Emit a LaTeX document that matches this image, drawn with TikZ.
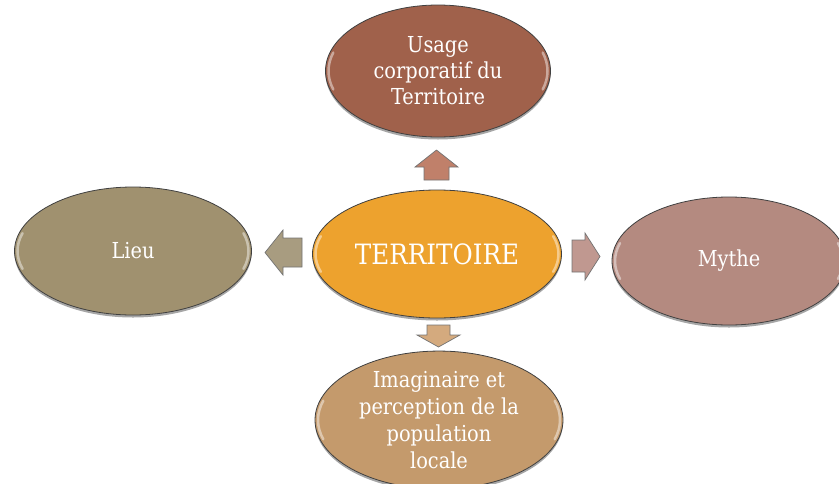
\documentclass[tikz,border=0pt]{standalone}
\usepackage{fontspec}
\setmainfont{DejaVu Serif}[FakeStretch=0.88]
\usetikzlibrary{calc,shadows,shapes.geometric}
\definecolor{cTop}{HTML}{A0614B}
\definecolor{cMid}{HTML}{EDA22E}
\definecolor{cLeft}{HTML}{A0916F}
\definecolor{cRight}{HTML}{B48A80}
\definecolor{cBot}{HTML}{C49A6C}
\definecolor{aTop}{HTML}{C0806A}
\definecolor{aLeft}{HTML}{A89C80}
\definecolor{aRight}{HTML}{C09890}
\definecolor{aBot}{HTML}{D4AA7E}
\tikzset{
  ell/.style={ellipse, draw=black!75, line width=0.8pt, inner sep=0pt, outer sep=0pt,
    text=white, align=center, font=\fontsize{22}{26}\selectfont,
    drop shadow={shadow xshift=0pt, shadow yshift=-2.5pt, opacity=0.35, fill=black},
    path picture={
      \draw[white, opacity=0.45, line width=2.5pt, line cap=round]
        let \p1=(path picture bounding box.center), \p2=(path picture bounding box.north east),
            \n1={\x2-\x1-3pt}, \n2={\y2-\y1-3pt} in
        (\x1,\y1) ++(163:{\n1} and {\n2}) arc[start angle=163, end angle=197, x radius=\n1, y radius=\n2]
        (\x1,\y1) ++(-17:{\n1} and {\n2}) arc[start angle=-17, end angle=17, x radius=\n1, y radius=\n2];
    }},
  barrow/.style={draw=black!55, line width=0.7pt, line join=miter}
}
\begin{document}
\begin{tikzpicture}[x=1pt,y=-1pt]
\useasboundingbox (0,0) rectangle (839,483);
\clip (0,0) rectangle (839,483);
% ellipses
\node[ell, fill=cTop, minimum width=225pt, minimum height=132pt] (top) at (438,71)
  {Usage\\corporatif du\\Territoire};
\node[ell, fill=cMid, minimum width=249pt, minimum height=128pt, font=\fontsize{28}{32}\selectfont] (mid) at (437,254)
  {TERRITOIRE};
\node[ell, fill=cLeft, minimum width=237pt, minimum height=128pt] (left) at (133,251) {Lieu};
\node[ell, fill=cRight, minimum width=234pt, minimum height=128pt] (right) at (729,261) {Mythe};
\node[ell, fill=cBot, minimum width=248pt, minimum height=130pt, font=\fontsize{22}{27}\selectfont] (bot) at (439,420)
  {Imaginaire et\\perception de la\\population\\locale};
% block arrows
% up
\filldraw[barrow, fill=aTop] (436.5,150) -- (458,167) -- (449,167) -- (449,180) -- (424,180) -- (424,167) -- (415,167) -- cycle;
% left
\filldraw[barrow, fill=aLeft] (265,252.5) -- (283,230) -- (283,238) -- (302,238) -- (302,267) -- (283,267) -- (283,275) -- cycle;
% right
\filldraw[barrow, fill=aRight] (600,256.5) -- (585,233) -- (585,240) -- (572,240) -- (572,272) -- (585,272) -- (585,280) -- cycle;
% down
\filldraw[barrow, fill=aBot] (438.5,347) -- (460,335) -- (450,335) -- (450,325) -- (427,325) -- (427,335) -- (417,335) -- cycle;
\end{tikzpicture}
\end{document}
